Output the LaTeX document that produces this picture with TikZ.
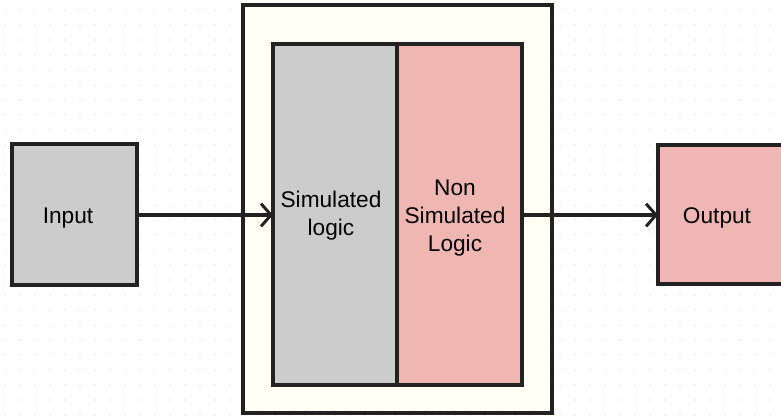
\documentclass[tikz,border=0pt]{standalone}
\usepackage{fontspec}
\setmainfont{Liberation Sans}
\usetikzlibrary{arrows.meta,fit}
\definecolor{boxgrey}{HTML}{CCCCCC}
\definecolor{boxpink}{HTML}{EEAFAB}
\definecolor{cream}{HTML}{FFFFF3}
\definecolor{edge}{HTML}{222222}
\definecolor{gdot}{HTML}{D0D0D0}
\tikzset{
  box/.style={draw=edge, line width=2.4pt, inner sep=0pt, outer sep=0pt, align=center,
    font=\fontsize{17}{21}\selectfont},
  lbl/.style={font=\fontsize{17}{21}\selectfont, align=center, text=black},
  conn/.style={edge, line width=2.4pt, -{Straight Barb[length=7.5pt,width=17pt,line width=2.2pt]}},
}
\begin{document}
\begin{tikzpicture}[x=0.75pt,y=-0.75pt]
\useasboundingbox (0,0) rectangle (781,415);
\clip (0,0) rectangle (781,415);
\fill[white] (0,0) rectangle (781,415);
% dotted grid
\foreach \gx in {5,20,...,780} {
  \foreach \gy in {10,25,...,415} {
    \fill[gdot] (\gx,\gy) circle (0.7);
  }
}
\node[box, fill=cream, fill opacity=0.85, text opacity=1, fit={(243,5) (552,413)}] (outer) {};
\node[box, fill=boxgrey, fit={(273,44) (397,385)}] (sim) {};
\node[box, fill=boxpink, fill opacity=0.9, text opacity=1, fit={(397,44) (522,385)}] (nonsim) {};
\node[box, fill=boxgrey, fit={(12,144) (137,285)}] (input) {};
\node[box, fill=boxpink, fill opacity=0.9, text opacity=1, fit={(658,145) (800,284)}] (output) {};
\node[lbl] (inputlbl) at (68,218) {Input};
\node[lbl] (simlbl) at (331,216) {Simulated\\logic};
\node[lbl] (nonsimlbl) at (455,218) {Non\\Simulated\\Logic};
\node[lbl] (outputlbl) at (717,218) {Output};
\coordinate (a1) at (137,215);
\coordinate (a2) at (273,215);
\coordinate (b1) at (522,215);
\coordinate (b2) at (658,215);
\draw[conn] (a1) -- (a2);
\draw[conn] (b1) -- (b2);
\end{tikzpicture}
\end{document}
